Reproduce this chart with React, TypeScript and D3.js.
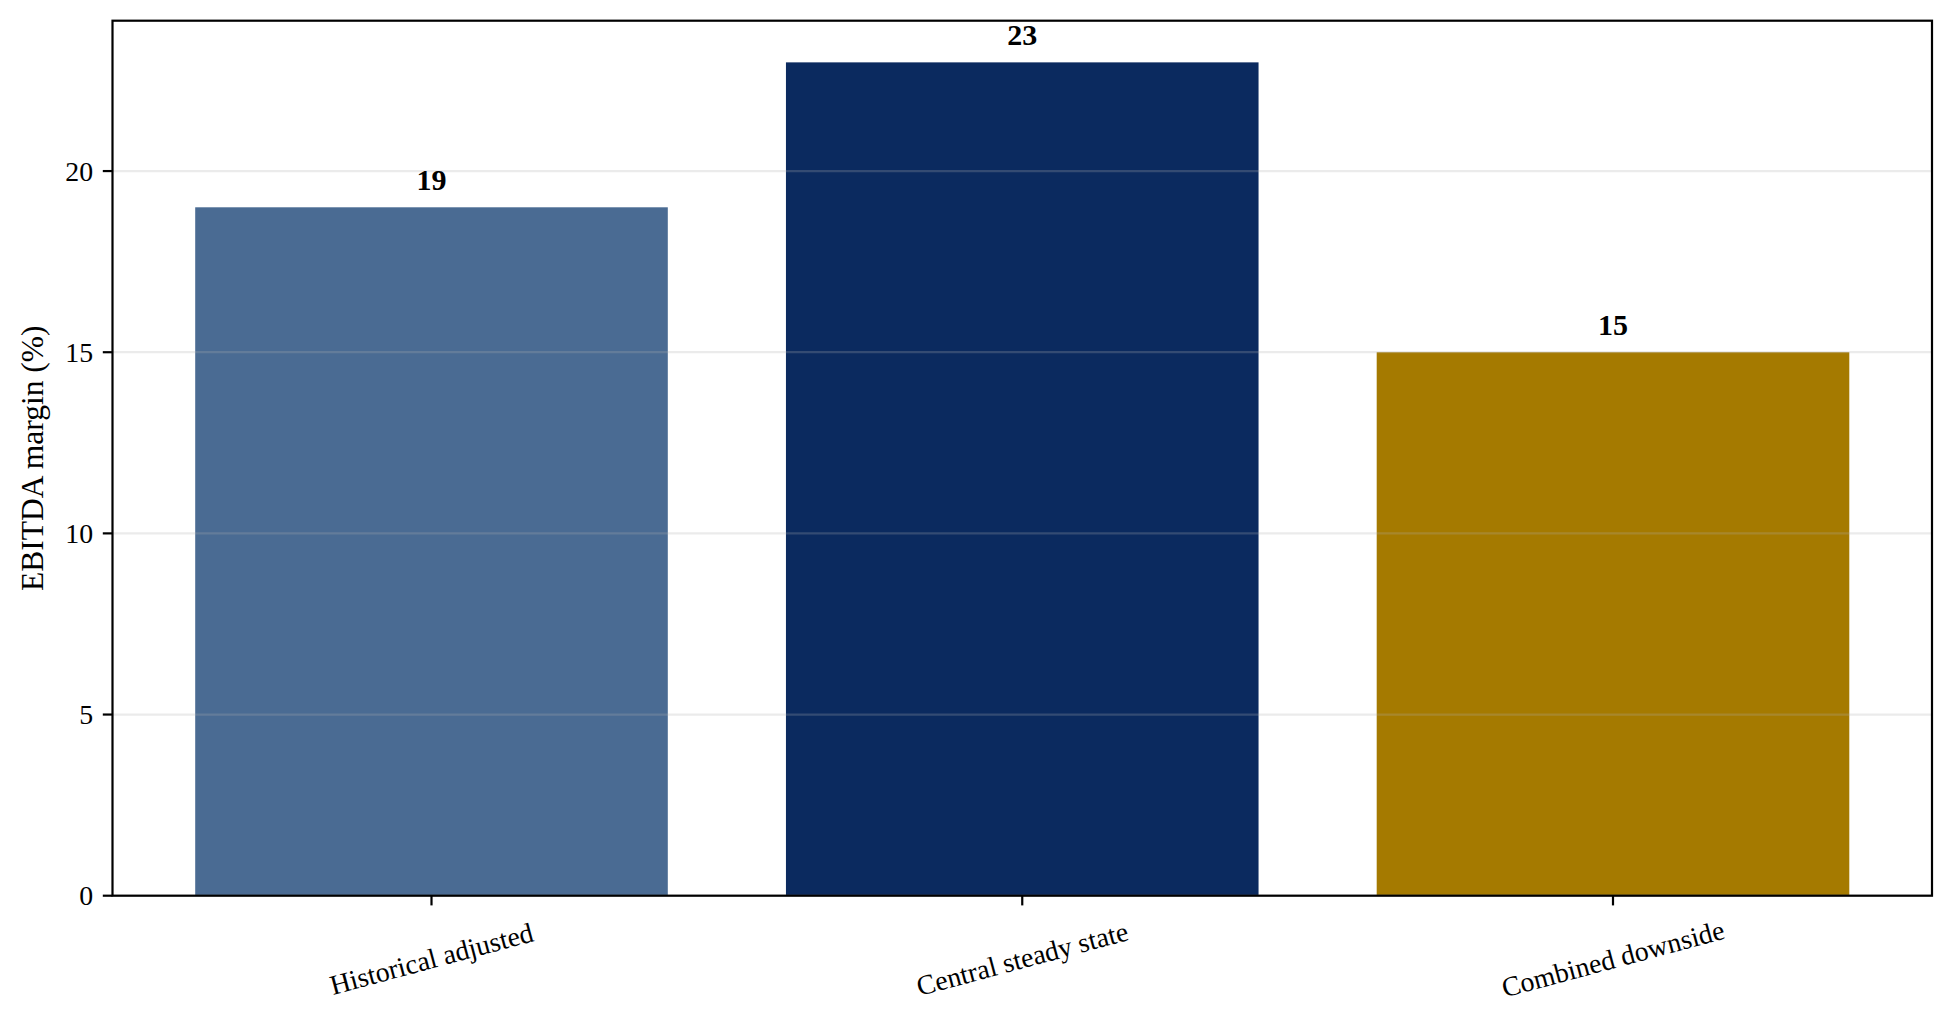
import React from "react";
import * as d3 from "d3";

const categories = ["Historical adjusted", "Central steady state", "Combined downside"];
const marginValues = [19, 23, 15];
const barColors = ["#4a6b93", "#0b2a5f", "#a57a00"];
const yTicks = [0, 5, 10, 15, 20];
const yLabel = "EBITDA margin (%)";

const W = 1955;
const H = 1029;
const plot = { left: 112.5, right: 1932, top: 20.7, bottom: 895.7 };
const FONT = "'Liberation Serif', 'Times New Roman', serif";

export default function App() {
  const x = d3
    .scaleBand<string>()
    .domain(categories)
    .range([plot.left, plot.right])
    .paddingInner(0.2)
    .paddingOuter(0.14);
  const yMax = d3.max(marginValues)! * 1.05;
  const y = d3.scaleLinear().domain([0, yMax]).range([plot.bottom, plot.top]);

  const tickLen = 9.7;
  const lw = 2.2;

  return (
    <div style={{ position: "absolute", left: 0, top: 0, width: W, height: H, background: "#fff" }}>
      <svg width={W} height={H} viewBox={`0 0 ${W} ${H}`} style={{ display: "block", fontFamily: FONT }}>
        <rect x={0} y={0} width={W} height={H} fill="#fff" />
        {/* bars */}
        {categories.map((c, i) => (
          <rect
            key={c}
            x={x(c)!}
            y={y(marginValues[i])}
            width={x.bandwidth()}
            height={y(0) - y(marginValues[i])}
            fill={barColors[i]}
          />
        ))}
        {/* grid */}
        {yTicks.map((t) => (
          <line
            key={"g" + t}
            x1={plot.left}
            x2={plot.right}
            y1={y(t)}
            y2={y(t)}
            stroke="#b0b0b0"
            strokeOpacity={0.25}
            strokeWidth={lw}
          />
        ))}
        {/* value labels */}
        {categories.map((c, i) => (
          <text
            key={"v" + c}
            x={x(c)! + x.bandwidth() / 2}
            y={y(marginValues[i]) - 17.5}
            textAnchor="middle"
            fontWeight="bold"
            fontSize={30}
            fill="#000"
          >
            {marginValues[i]}
          </text>
        ))}
        {/* y ticks */}
        {yTicks.map((t) => (
          <g key={"yt" + t}>
            <line x1={plot.left - tickLen} x2={plot.left} y1={y(t)} y2={y(t)} stroke="#000" strokeWidth={lw} />
            <text x={plot.left - tickLen - 9.7} y={y(t)} dy="0.35em" textAnchor="end" fontSize={27.8} fill="#000">
              {t}
            </text>
          </g>
        ))}
        {/* x ticks */}
        {categories.map((c) => {
          const cx = x(c)! + x.bandwidth() / 2;
          const cy = plot.bottom + 63;
          return (
            <g key={"xt" + c}>
              <line x1={cx} x2={cx} y1={plot.bottom} y2={plot.bottom + tickLen} stroke="#000" strokeWidth={lw} />
              <text
                x={cx}
                y={cy}
                textAnchor="middle"
                dominantBaseline="central"
                fontSize={27.8}
                fill="#000"
                transform={`rotate(-15 ${cx} ${cy})`}
              >
                {c}
              </text>
            </g>
          );
        })}
        {/* y label */}
        <text
          transform={`translate(43 ${(plot.top + plot.bottom) / 2}) rotate(-90)`}
          textAnchor="middle"
          fontSize={31.5}
          fill="#000"
        >
          {yLabel}
        </text>
        {/* frame */}
        <rect
          x={plot.left}
          y={plot.top}
          width={plot.right - plot.left}
          height={plot.bottom - plot.top}
          fill="none"
          stroke="#000"
          strokeWidth={lw}
        />
      </svg>
    </div>
  );
}
